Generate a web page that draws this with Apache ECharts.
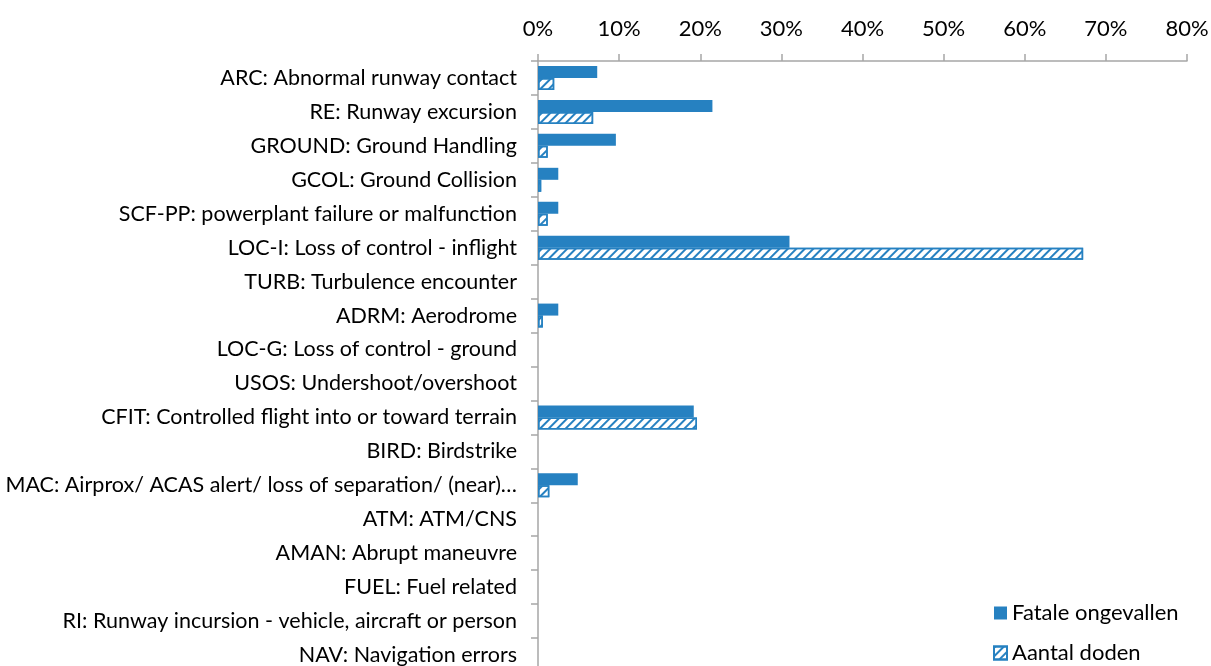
<!DOCTYPE html>
<html>
<head>
<meta charset="utf-8">
<script src="https://cdn.jsdelivr.net/npm/echarts@6/dist/echarts.min.js"></script>
<style>
  html, body { margin: 0; padding: 0; background: #fff; }
  #chart { width: 1211px; height: 666px; }
</style>
</head>
<body>
<div id="chart"></div>
<script>
// categorieen van boven naar onder
const categories = [
  'ARC: Abnormal runway contact',
  'RE: Runway excursion',
  'GROUND: Ground Handling',
  'GCOL: Ground Collision',
  'SCF-PP: powerplant failure or malfunction',
  'LOC-I: Loss of control - inflight',
  'TURB: Turbulence encounter',
  'ADRM: Aerodrome',
  'LOC-G: Loss of control - ground',
  'USOS: Undershoot/overshoot',
  'CFIT: Controlled flight into or toward terrain',
  'BIRD: Birdstrike',
  'MAC: Airprox/ ACAS alert/ loss of separation/ (near)\u2026',
  'ATM: ATM/CNS',
  'AMAN: Abrupt maneuvre',
  'FUEL: Fuel related',
  'RI: Runway incursion - vehicle, aircraft or person',
  'NAV: Navigation errors',
];

// percentages
const fatalAccidents = [7.3, 21.5, 9.6, 2.5, 2.5, 31.0, 0, 2.5, 0, 0, 19.2, 0, 4.9, 0, 0, 0, 0, 0];
const fatalities = [2.0, 6.8, 1.2, 0.4, 1.2, 67.2, 0, 0.6, 0, 0, 19.6, 0, 1.4, 0, 0, 0, 0, 0];

const blue = '#2681c1';
const font = 'Lato';

const chart = echarts.init(document.getElementById('chart'));
const option = {
  animation: false,
  textStyle: { fontFamily: font },
  grid: {
    left: 538,
    right: 24,
    top: 61,
    bottom: -6,
    outerBoundsMode: 'none',
  },
  legend: {
    orient: 'vertical',
    left: 988,
    top: 597,
    height: 70,
    itemWidth: 13,
    itemHeight: 13,
    itemGap: 18,
    icon: 'rect',
    textStyle: { fontFamily: font, fontSize: 22, lineHeight: 22, color: '#000' },
    data: ['Fatale ongevallen', 'Aantal doden'],
  },
  xAxis: {
    type: 'value',
    position: 'top',
    min: 0,
    max: 80,
    interval: 10,
    axisLine: { show: true, lineStyle: { color: '#a6a6a6', width: 1.5 } },
    axisTick: { show: true, length: 7, lineStyle: { color: '#a6a6a6', width: 1.5 } },
    splitLine: { show: false },
    axisLabel: {
      formatter: '{value}%',
      fontFamily: font,
      fontSize: 22,
      color: '#000',
      margin: 21,
    },
  },
  yAxis: {
    type: 'category',
    inverse: true,
    data: categories,
    axisLine: { show: true, lineStyle: { color: '#a6a6a6', width: 1.5 } },
    axisTick: { show: true, length: 7, lineStyle: { color: '#a6a6a6', width: 1.5 } },
    axisLabel: {
      fontFamily: font,
      fontSize: 21.5,
      color: '#000',
      margin: 21,
    },
  },
  series: [
    {
      name: 'Fatale ongevallen',
      type: 'bar',
      barWidth: 12,
      barGap: '0%',
      itemStyle: { color: blue },
      data: fatalAccidents.map((v) => v || null),
    },
    {
      name: 'Aantal doden',
      type: 'bar',
      barWidth: 12,
      itemStyle: {
        color: '#fff',
        borderColor: blue,
        borderWidth: 1.5,
        decal: {
          symbol: 'rect',
          symbolSize: 1,
          color: blue,
          dashArrayX: [1, 0],
          dashArrayY: [2, 3.7],
          rotation: -Math.PI / 4,
        },
      },
      data: fatalities.map((v) => v || null),
    },
  ],
};
chart.setOption(option);
</script>
</body>
</html>
